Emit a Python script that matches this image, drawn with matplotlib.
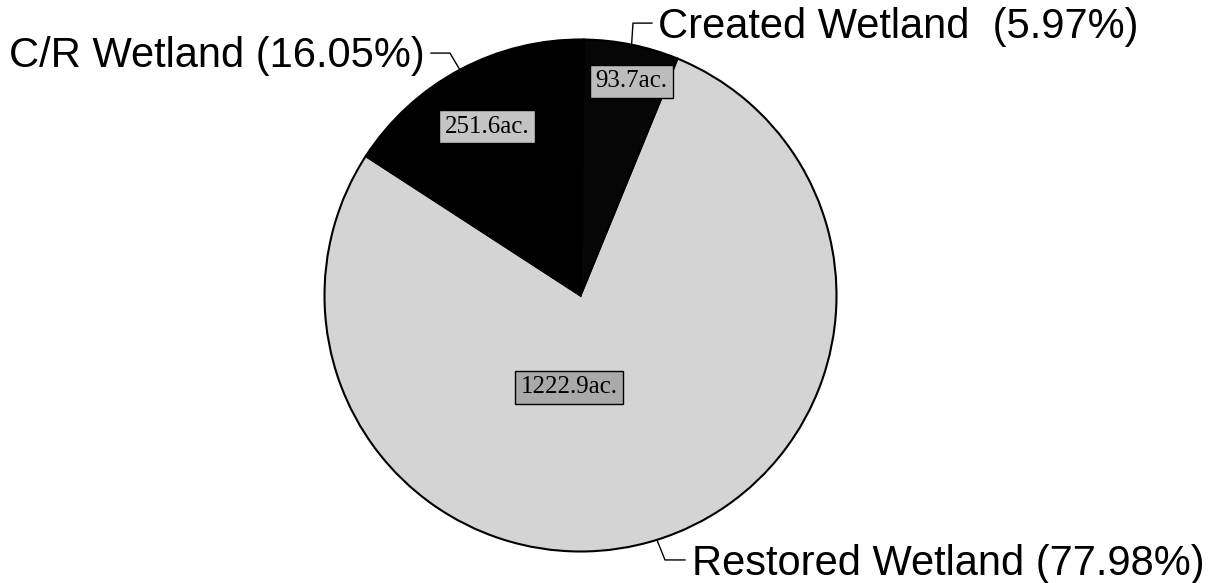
import numpy as np
import matplotlib
matplotlib.use("Agg")
import matplotlib.pyplot as plt

# valeurs
categories = ["Restored Wetland", "Created Wetland", "C/R Wetland"]
acres = [1222.9, 93.7, 251.6]
percents = [77.98, 5.97, 16.05]
acre_labels = ["1222.9ac.", "93.7ac.", "251.6ac."]

# styles
slice_colors = ["#d4d4d4", "#060606", "#000000"]
box_colors = ["#a9a9a9", "#bcbcbc", "#c4c4c4"]
outer_labels = ["Restored Wetland (77.98%)", "Created Wetland  (5.97%)", "C/R Wetland (16.05%)"]

# positions (coordonnées de l'axe, rayon = 1)
box_pos = [(-0.234, -0.316), (0.0586, 0.879), (-0.531, 0.703)]
elbow_pos = [(0.33, -1.033), (0.205, 1.064), (-0.51, 0.947)]
line_end = [(0.408, -1.033), (0.279, 1.064), (-0.584, 0.947)]
text_pos = [(0.436, -1.092), (0.303, 1.006), (-0.607, 0.893)]
text_ha = ["left", "left", "right"]

W, H = 1217, 583
cx, cy, r = 580.5, 295.5, 256
fig = plt.figure(figsize=(W / 100, H / 100), dpi=100)
ax = fig.add_axes([(cx - r) / W, (H - cy - r) / H, 2 * r / W, 2 * r / H])

wedges, _ = ax.pie(acres, startangle=147.0, counterclock=True, colors=slice_colors,
                   wedgeprops=dict(edgecolor="black", linewidth=1.5))
ax.set_xlim(-1, 1)
ax.set_ylim(-1, 1)
ax.set_aspect("equal")
ax.axis("off")

for i, w in enumerate(wedges):
    # étiquette en acres dans une boîte grise
    ax.text(box_pos[i][0], box_pos[i][1], acre_labels[i], ha="left", va="top",
            fontsize=18, family=["Liberation Serif", "DejaVu Serif"], color="black",
            bbox=dict(boxstyle="square,pad=0.22", fc=box_colors[i], ec="black", lw=1.0))

    # ligne de rappel depuis le milieu de la part
    mid = np.deg2rad((w.theta1 + w.theta2) / 2)
    xs = [np.cos(mid), elbow_pos[i][0], line_end[i][0]]
    ys = [np.sin(mid), elbow_pos[i][1], line_end[i][1]]
    ax.plot(xs, ys, color="black", lw=1.0, clip_on=False)

    ax.text(text_pos[i][0], text_pos[i][1], outer_labels[i], ha=text_ha[i], va="baseline",
            fontsize=30, family=["Liberation Sans", "DejaVu Sans"], color="black")

fig.savefig("out.png", dpi=100)
